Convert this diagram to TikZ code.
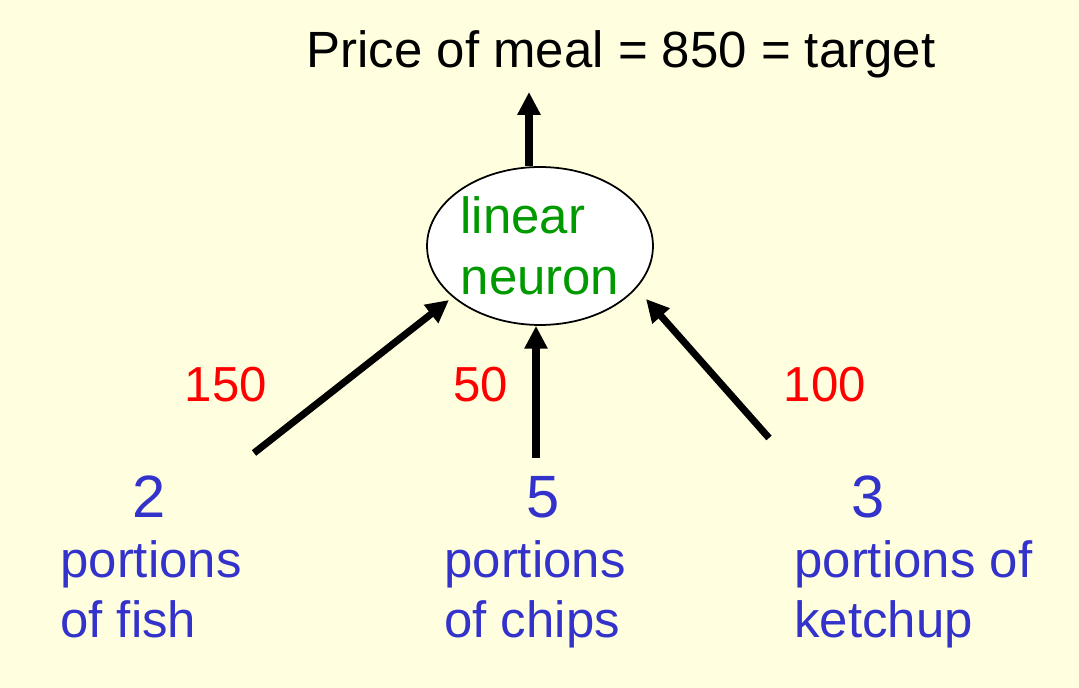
\documentclass[tikz,border=0pt]{standalone}
\usepackage{fontspec}
\setmainfont{Liberation Sans}
\usetikzlibrary{arrows.meta, shapes.geometric}
\definecolor{paperyellow}{HTML}{FFFFE0}
\definecolor{inputblue}{HTML}{3333CC}
\definecolor{neurongreen}{HTML}{009900}
\definecolor{weightred}{HTML}{FF0000}

\begin{document}
\begin{tikzpicture}[x=0.02cm, y=-0.02cm, >={Triangle[width=12.5pt, length=13pt]}]
    \tikzstyle{txt} = [inner sep=0pt, font=\fontsize{29}{34.6}\selectfont]
    \tikzstyle{num} = [inner sep=0pt, font=\fontsize{34}{40}\selectfont, text=inputblue]
    \tikzstyle{weight} = [inner sep=0pt, font=\fontsize{28}{34}\selectfont, text=weightred]
    \tikzstyle{input} = [txt, text=inputblue, align=left]
    \tikzstyle{wire} = [->, line width=4pt]

    % background sheet
    \fill [paperyellow] (0,0) rectangle (1079,688);

    % output on top, neuron in the middle
    \node (target) [txt, anchor=base] at (621,68) {Price of meal = 850 = target};
    \node (neuron) [ellipse, draw, fill=white, line width=1pt, minimum width=4.52cm,
      minimum height=3.16cm, txt, text=neurongreen, align=left] at (540,246) {linear\\neuron};

    % inputs: count and what it is (base = last line)
    \node (fishnum)    [num, anchor=base] at (149,518) {2};
    \node (chipsnum)   [num, anchor=base] at (543,518) {5};
    \node (ketchupnum) [num, anchor=base] at (868,518) {3};
    \node (fish)    [input, anchor=base west] at (60,638)  {portions\\of fish};
    \node (chips)   [input, anchor=base west] at (444,638) {portions\\of chips};
    \node (ketchup) [input, anchor=base west] at (794,638) {portions of\\ketchup};

    % weights
    \node (w150) [weight, anchor=base] at (226,402) {150};
    \node (w50)  [weight, anchor=base] at (481,402) {50};
    \node (w100) [weight, anchor=base] at (825,402) {100};

    % free ends of the wires
    \coordinate (fishtail)    at (254,453);
    \coordinate (chipstail)   at (536,458);
    \coordinate (ketchuptail) at (769,438);
    \coordinate (out)         at (529,92);

    % wires into the neuron
    \draw [wire] (fishtail) -- ([shift={(-91,54)}]neuron.center);
    \draw [wire] (chipstail) -- (chipstail |- neuron.south);
    \draw [wire] (ketchuptail) -- ([shift={(106,53)}]neuron.center);

    % neuron -> price
    \draw [wire] (out |- neuron.north) -- (out);
\end{tikzpicture}
\end{document}
